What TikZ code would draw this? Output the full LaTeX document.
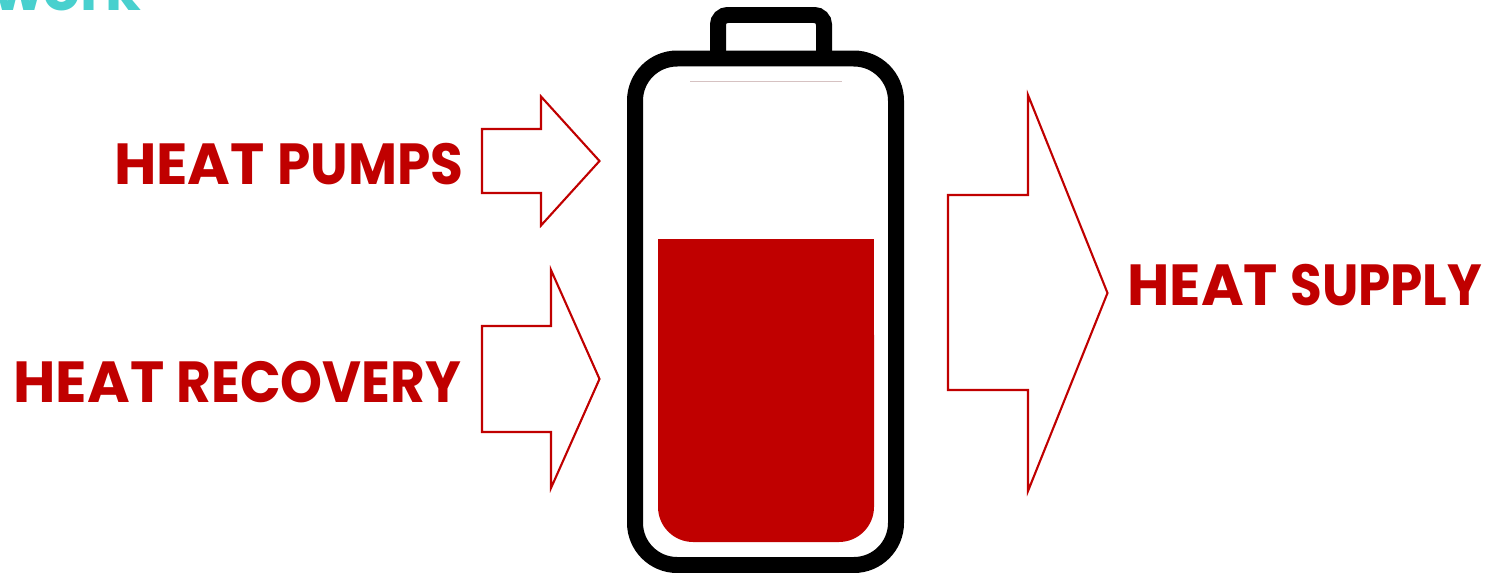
\documentclass[tikz,border=0pt]{standalone}
\usepackage{fontspec}
\setmainfont{Poppins}
\newfontfamily\narrowfont[FakeStretch=0.92]{Poppins}
\newfontfamily\narrowerfont[FakeStretch=0.89]{Poppins}
\definecolor{heatred}{RGB}{192,0,0}
\definecolor{worktext}{RGB}{72,208,206}
\tikzset{
    heatlabel/.style={text=heatred, font=\fontsize{33}{33}\selectfont\bfseries, inner sep=0pt},
    heatarrow/.style={draw=heatred, line width=1.2pt, fill=white},
    casing/.style={draw=black, line width=9.1pt}
}
\begin{document}
\begin{tikzpicture}[x=0.02cm, y=-0.02cm]

    % Frame of the page, everything is cut to it
    \useasboundingbox (0,0) rectangle (1491,572);
    \clip (0,0) rectangle (1491,572);

    % Title left over at the top
    \node[anchor=base west, text=worktext, font=\fontsize{33}{33}\selectfont\bfseries, inner sep=0pt] (worktitle) at (-7,10) {work};

    % Battery
    \draw[casing, rounded corners=5.5pt] (718,58.5) -- (718,15) -- (824,15) -- (824,58.5);
    \fill[heatred, rounded corners=20pt] (658,300) -- (658,542) -- (874,542) -- (874,300) -- cycle;
    \fill[heatred] (658,239) rectangle (874,400);
    \draw[casing, rounded corners=24pt] (635,58.5) rectangle (896,565);
    \draw[red!20!gray!40, line width=0.4pt] (690,81) -- (842,81);

    % Arrows in
    \draw[heatarrow] (482,129) -- (541,129) -- (541,96.5) -- (599.5,161) -- (541,225.5) -- (541,193) -- (482,193) -- cycle;
    \draw[heatarrow] (482,326) -- (551,326) -- (551,270) -- (599.5,379) -- (551,488) -- (551,432) -- (482,432) -- cycle;

    % Arrow out
    \draw[heatarrow] (948,195) -- (1028,195) -- (1028,95) -- (1107.5,293) -- (1028,491) -- (1028,390) -- (948,390) -- cycle;

    % Labels
    \node[heatlabel, anchor=base east] (pumps) at (463.5,184) {HEAT {\narrowfont PUMPS}};
    \node[heatlabel, anchor=base east] (recovery) at (461.5,402) {HEAT {\narrowfont RECOVERY}};
    \node[heatlabel, anchor=base west] (supply) at (1127,305) {HEAT {\narrowerfont SUPPLY}};

\end{tikzpicture}
\end{document}
